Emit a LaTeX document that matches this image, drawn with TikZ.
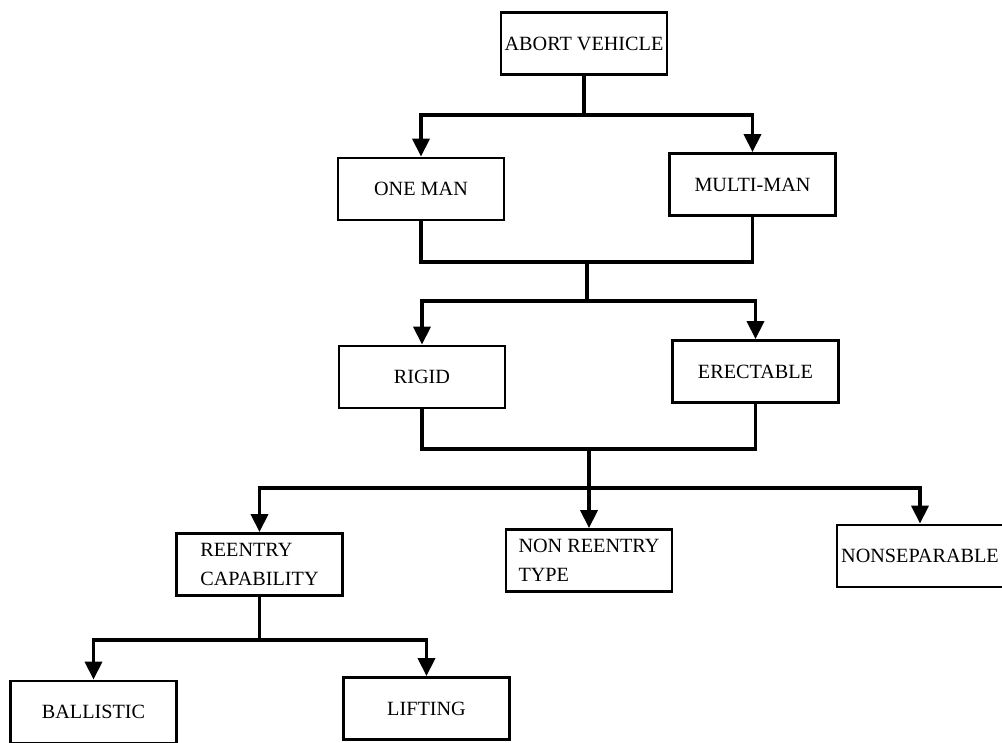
\documentclass[tikz,border=0pt]{standalone}
\usepackage{fontspec}
\setmainfont{Liberation Serif}
\usetikzlibrary{arrows.meta}

\begin{document}
\begin{tikzpicture}[x=0.02cm, y=-0.02cm,
  block/.style={draw, line width=1.6pt, minimum width=3.32cm, minimum height=1.24cm, align=left, inner sep=2pt, font=\fontsize{11.5}{16.5}\selectfont},
  wire/.style={line width=2pt},
  feed/.style={line width=2pt, -{Triangle[length=0.36cm, width=0.34cm]}}]
\useasboundingbox (0,0) rectangle (1002,743);
\node[block] (abort) at (584,43.5) {ABORT VEHICLE};
\node[block] (oneman) at (421,189) {ONE MAN};
\node[block] (multiman) at (752.5,184.5) {MULTI-MAN};
\node[block] (rigid) at (422,377) {RIGID};
\node[block] (erectable) at (755.5,371.5) {ERECTABLE};
\node[block] (reentry) at (259.5,564.5) {REENTRY\\CAPABILITY};
\node[block] (nonreentry) at (589,560.5) {NON REENTRY\\TYPE};
\node[block] (nonsep) at (920,556) {NONSEPARABLE};
\node[block] (ballistic) at (93.5,712) {BALLISTIC};
\node[block] (lifting) at (426.5,708.5) {LIFTING};
\coordinate (split1) at (584,115);
\coordinate (join1) at (587,262);
\coordinate (split2) at (587,301);
\coordinate (join2) at (589,449);
\coordinate (split3) at (589,488);
\coordinate (split4) at (259.5,640);
\draw[wire] (abort.south) -- (split1);
\draw[feed] (split1) -| (oneman.north);
\draw[feed] (split1) -| (multiman.north);
\draw[wire] (oneman.south) |- (join1) -| (multiman.south);
\draw[wire] (join1) -- (split2);
\draw[feed] (split2) -| (rigid.north);
\draw[feed] (split2) -| (erectable.north);
\draw[wire] (rigid.south) |- (join2) -| (erectable.south);
\draw[wire] (join2) -- (split3);
\draw[feed] (split3) -| (reentry.north);
\draw[feed] (split3) -- (nonreentry.north);
\draw[feed] (split3) -| (nonsep.north);
\draw[wire] (reentry.south) -- (split4);
\draw[feed] (split4) -| (ballistic.north);
\draw[feed] (split4) -| (lifting.north);
\end{tikzpicture}
\end{document}
